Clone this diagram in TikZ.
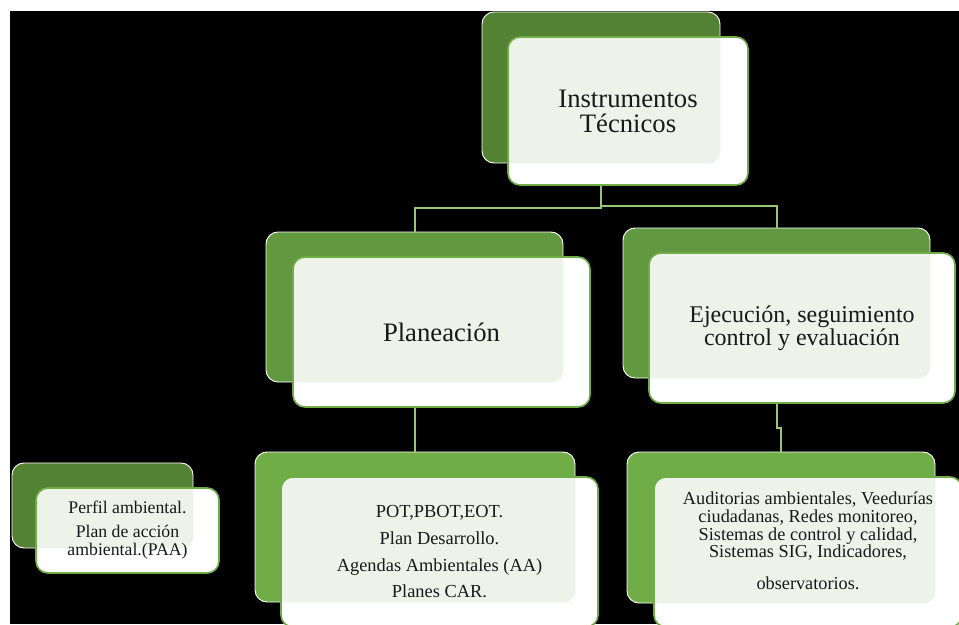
\documentclass[tikz,border=0pt]{standalone}
\usepackage{fontspec}
\setmainfont{Liberation Serif}
\usetikzlibrary{calc}

\definecolor{darkleaf}{RGB}{84,130,53}
\definecolor{midleaf}{RGB}{98,153,64}
\definecolor{lightleaf}{RGB}{112,173,71}
\definecolor{rimleaf}{RGB}{112,173,71}
\definecolor{stemleaf}{RGB}{150,198,118}
\definecolor{tintleaf}{RGB}{238,243,234}

\tikzset{
	boxsize/.style 2 args = {minimum width = #1*0.75pt, minimum height = #2*0.75pt},
	backbox/.style = {rectangle, rounded corners = 9pt, inner sep = 0pt, fill = #1, draw = white, line width = .7pt},
	frontbox/.style = {rectangle, rounded corners = 9pt, inner sep = 0pt, fill = white, draw = rimleaf, line width = 1.2pt,
		align = center, text = black!90,
		path picture = {\fill[tintleaf, rounded corners = 9pt] (#1.north west) rectangle (#1.south east);}},
	stem/.style = {draw = stemleaf, line width = 1.5pt}
}

\begin{document}
\begin{tikzpicture}[x = 0.75pt, y = -0.75pt]
		\clip (0,0) rectangle (959,624);
		\fill[black] (10,11) rectangle (959,624);
		
		% back boxes
		\node[backbox = darkleaf, boxsize = {238}{151}] (topb) at (601,87.5) {};
		\node[backbox = midleaf, boxsize = {297}{150}] (planb) at (414.5,307) {};
		\node[backbox = midleaf, boxsize = {307}{150}] (ejecb) at (776.5,303) {};
		\node[backbox = darkleaf, boxsize = {181}{85}] (perb) at (102.5,505.5) {};
		\node[backbox = lightleaf, boxsize = {320}{150}] (potb) at (415,527) {};
		\node[backbox = lightleaf, boxsize = {308}{151}] (audb) at (781,527.5) {};
		
		% connectors
		\draw[stem] (topb.south) -- ++(0,45) -| (planb.north);
		\draw[stem] (topb.south) -- ++(0,43) -| (ejecb.north);
		\draw[stem] (planb.south) -- (planb.south |- potb.north);
		\draw[stem] (ejecb.south) -- ++(0,50) -| (audb.north);
		
		% front boxes
		\node[frontbox = topb, boxsize = {240}{148}, font = \fontsize{20}{18.75}\selectfont] (topf) at (628,111) {Instrumentos\\Técnicos};
		\node[frontbox = planb, boxsize = {297}{150}, font = \fontsize{20}{20}\selectfont] (planf) at (441.5,332) {Planeación};
		\node[frontbox = ejecb, boxsize = {306}{150}, font = \fontsize{18}{17.25}\selectfont] (ejecf) at (802,328) {Ejecución, seguimiento\\control y evaluación};
		\node[frontbox = perb, boxsize = {183}{85}, font = \fontsize{13.3}{13.5}\selectfont] (perf) at (127.5,530.5) {Perfil ambiental.\\[4.5pt]Plan de acción\\ambiental.(PAA)};
		\node[frontbox = potb, boxsize = {317}{150}, font = \fontsize{13.8}{20}\selectfont] (potf) at (439.5,552) {POT,PBOT,EOT.\\Plan Desarrollo.\\Agendas Ambientales (AA)\\Planes CAR.};
		\node[frontbox = audb, boxsize = {308}{150}] (audf) at (808,552) {};
		\node[align = center, text = black!90, font = \fontsize{13.7}{13.3}\selectfont] (audt) at ([yshift = 8.5pt]audf.center) {Auditorias ambientales, Veedurías\\ciudadanas, Redes monitoreo,\\Sistemas de control y calidad,\\Sistemas SIG, Indicadores,\\[10pt]observatorios.};
	\end{tikzpicture}
\end{document}
